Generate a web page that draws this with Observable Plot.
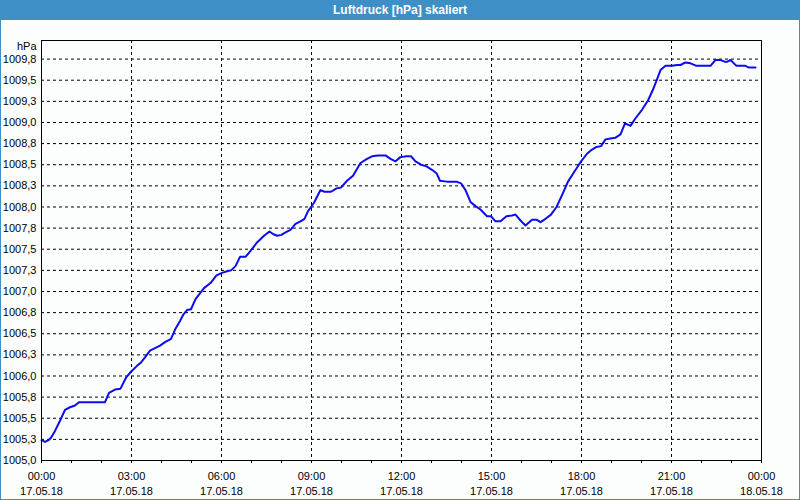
<!DOCTYPE html>
<html>
<head>
<meta charset="utf-8">
<script src="https://cdn.jsdelivr.net/npm/d3@7"></script>
<script src="https://cdn.jsdelivr.net/npm/@observablehq/plot@0.6"></script>
<style>
  html, body { margin: 0; padding: 0; background: #fcfefe; }
  #wrap { position: relative; width: 800px; height: 500px; background: #fcfefe; overflow: hidden; }
  #title { position: absolute; left: 0; top: 0; width: 800px; height: 20px; background: #3d8fc6;
           color: #fff; font: bold 12px "Liberation Sans", Arial, sans-serif; text-align: center; line-height: 20px; }
  #chart { position: absolute; left: 0; top: 20px; }
  #border { position: absolute; left: 0; top: 0; width: 800px; height: 500px; box-sizing: border-box;
            border: 1px solid #3d8fc6; border-top: none; pointer-events: none; }
</style>
</head>
<body>
<div id="wrap">
  <div id="title">Luftdruck [hPa] skaliert</div>
  <div id="chart"></div>
  <div id="border"></div>
</div>
<script>
// time in minutes since 17.05.18 00:00
const minutes = [0,7,14,19,27,37,47,57,67,75,84,127,135,147,158,169,179,191,199,207,217,227,237,247,259,268,277,284,291,299,308,325,338,350,361,371,379,388,397,408,418,431,445,456,463,471,480,488,498,508,518,526,533,545,558,566,579,590,599,611,623,638,651,661,673,688,698,708,718,730,739,748,759,770,781,790,797,811,830,839,848,858,868,878,891,899,908,918,930,941,948,958,968,981,990,998,1008,1019,1030,1041,1053,1065,1078,1091,1101,1110,1119,1128,1138,1148,1158,1167,1178,1188,1201,1213,1223,1231,1238,1248,1261,1271,1278,1288,1298,1310,1338,1348,1357,1366,1372,1378,1390,1408,1415,1428];
const pressure = [1005.24,1005.22,1005.24,1005.27,1005.35,1005.47,1005.60,1005.63,1005.65,1005.69,1005.69,1005.69,1005.80,1005.84,1005.85,1005.98,1006.05,1006.12,1006.16,1006.22,1006.30,1006.33,1006.36,1006.40,1006.44,1006.56,1006.65,1006.73,1006.78,1006.79,1006.91,1007.04,1007.10,1007.19,1007.22,1007.24,1007.25,1007.30,1007.41,1007.41,1007.48,1007.58,1007.66,1007.71,1007.68,1007.66,1007.67,1007.70,1007.73,1007.80,1007.83,1007.86,1007.95,1008.05,1008.20,1008.18,1008.18,1008.22,1008.23,1008.31,1008.37,1008.52,1008.57,1008.60,1008.61,1008.61,1008.57,1008.54,1008.59,1008.60,1008.60,1008.54,1008.50,1008.48,1008.44,1008.40,1008.31,1008.30,1008.30,1008.28,1008.20,1008.06,1008.01,1007.97,1007.89,1007.89,1007.83,1007.83,1007.89,1007.90,1007.91,1007.84,1007.78,1007.85,1007.85,1007.82,1007.86,1007.91,1008.00,1008.14,1008.30,1008.41,1008.53,1008.63,1008.68,1008.71,1008.72,1008.80,1008.81,1008.82,1008.86,1008.99,1008.96,1009.05,1009.15,1009.26,1009.39,1009.51,1009.62,1009.67,1009.67,1009.68,1009.68,1009.71,1009.70,1009.67,1009.67,1009.74,1009.74,1009.72,1009.72,1009.74,1009.67,1009.67,1009.65,1009.65];

const xTicks = [0,3,6,9,12,15,18,21,24]; // hours
const xTimeLabels = ["00:00","03:00","06:00","09:00","12:00","15:00","18:00","21:00","00:00"];
const xDateLabels = ["17.05.18","17.05.18","17.05.18","17.05.18","17.05.18","17.05.18","17.05.18","17.05.18","18.05.18"];
const hourTicks = d3.range(0, 25);
const yTicks = [1005.0,1005.25,1005.5,1005.75,1006.0,1006.25,1006.5,1006.75,1007.0,1007.25,1007.5,1007.75,1008.0,1008.25,1008.5,1008.75,1009.0,1009.25,1009.5,1009.75];
const yLabels = ["1005,0","1005,3","1005,5","1005,8","1006,0","1006,3","1006,5","1006,8","1007,0","1007,3","1007,5","1007,8","1008,0","1008,3","1008,5","1008,8","1009,0","1009,3","1009,5","1009,8"];
const unitLabel = "hPa";

const data = minutes.map((m, i) => ({t: m / 60, v: pressure[i]}));

const chart = Plot.plot({
  width: 800,
  height: 480,
  marginLeft: 41,
  marginRight: 39,
  marginTop: 20,
  marginBottom: 40,
  style: {fontFamily: "'Liberation Sans', Arial, sans-serif", fontSize: "11px", background: "transparent", color: "#000"},
  x: {domain: [0, 24]},
  y: {domain: [1005, 1009.97]},
  marks: [
    Plot.gridY(yTicks.slice(1), {stroke: "#000", strokeOpacity: 1, strokeDasharray: "3,3"}),
    Plot.gridX(xTicks.slice(1, -1), {stroke: "#000", strokeOpacity: 1, strokeDasharray: "3,3"}),
    Plot.axisY(yTicks, {tickSize: 0, tickPadding: 5, tickFormat: d => yLabels[yTicks.indexOf(d)], label: null, fill: "#000"}),
    Plot.axisX(hourTicks, {tickSize: 3, tickFormat: () => "", label: null, stroke: "#000"}),
    Plot.axisX(xTicks, {tickSize: 0, tickPadding: 9, lineHeight: 1.36, tickFormat: d => xTimeLabels[xTicks.indexOf(d)] + "\n" + xDateLabels[xTicks.indexOf(d)], label: null, fill: "#000"}),
    Plot.text([unitLabel], {frameAnchor: "top-left", dx: -5, dy: 6, textAnchor: "end", lineAnchor: "middle", fill: "#000"}),
    Plot.line(data, {x: "t", y: "v", stroke: "#0c0cec", strokeWidth: 2}),
    Plot.frame({stroke: "#000"})
  ]
});
document.getElementById("chart").appendChild(chart);
</script>
</body>
</html>
